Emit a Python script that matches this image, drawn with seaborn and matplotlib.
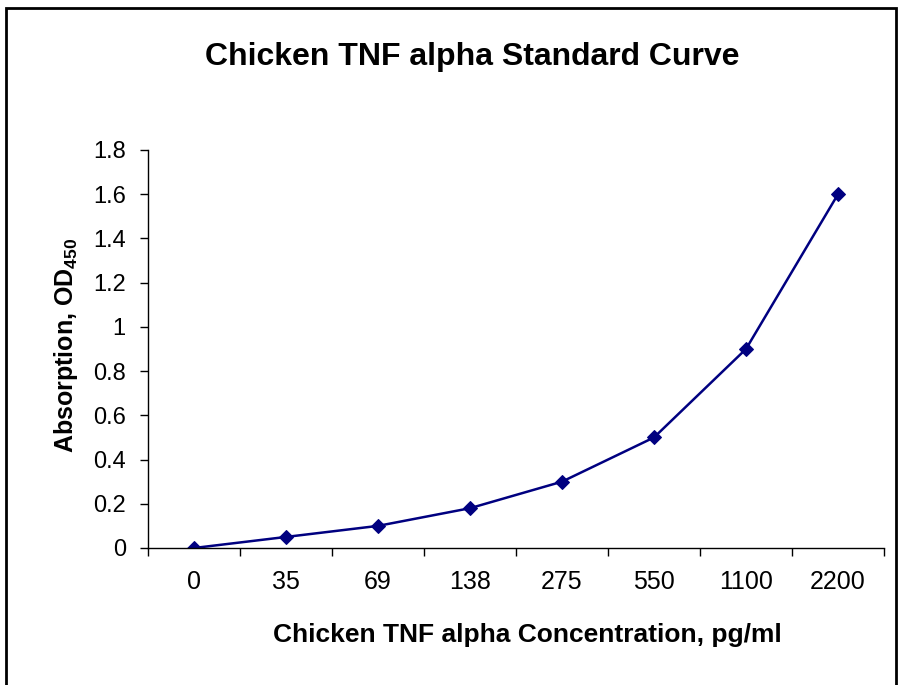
import matplotlib
matplotlib.use("Agg")
import matplotlib.pyplot as plt
import seaborn as sns
import pandas as pd
from matplotlib.patches import Rectangle
from matplotlib.ticker import FixedLocator

# data
concentrations = ["0", "35", "69", "138", "275", "550", "1100", "2200"]
absorption = [0.0, 0.05, 0.1, 0.18, 0.3, 0.5, 0.9, 1.6]
y_ticks = [0, 0.2, 0.4, 0.6, 0.8, 1.0, 1.2, 1.4, 1.6, 1.8]
y_tick_labels = ["0", "0.2", "0.4", "0.6", "0.8", "1", "1.2", "1.4", "1.6", "1.8"]

df = pd.DataFrame({"conc": concentrations, "od": absorption})

sns.set_theme(style="white")
plt.rcParams["font.family"] = ["Liberation Sans", "DejaVu Sans"]
plt.rcParams["font.sans-serif"] = ["Liberation Sans", "DejaVu Sans"]
plt.rcParams["mathtext.fontset"] = "custom"
plt.rcParams["mathtext.bf"] = "sans:bold"
plt.rcParams["mathtext.rm"] = "sans"
for key in ["text.color", "axes.labelcolor", "xtick.color", "ytick.color"]:
    plt.rcParams[key] = "black"

fig = plt.figure(figsize=(9, 6.85), dpi=100)
ax = fig.add_axes([148 / 900, 137 / 685, 736 / 900, 398 / 685])

sns.lineplot(data=df, x="conc", y="od", sort=False, color="#000080",
             marker="D", markersize=7, markeredgecolor="#000080",
             linewidth=1.8, ax=ax)

ax.set_xlim(-0.5, len(concentrations) - 0.5)
ax.set_ylim(0, 1.8)
ax.set_yticks(y_ticks)
ax.set_yticklabels(y_tick_labels)
ax.set_xticks(range(len(concentrations)))
ax.set_xticklabels(concentrations)
ax.xaxis.set_minor_locator(FixedLocator([i - 0.5 for i in range(len(concentrations) + 1)]))
ax.tick_params(axis="x", which="major", length=0, pad=16, labelsize=18)
ax.tick_params(axis="x", which="minor", length=6, width=1, direction="out", color="black", bottom=True)
ax.tick_params(axis="y", length=6, width=1, direction="out", color="black", left=True, labelsize=17, pad=10)

for s in ["top", "right"]:
    ax.spines[s].set_visible(False)
for s in ["left", "bottom"]:
    ax.spines[s].set_color("black")
    ax.spines[s].set_linewidth(1)

ax.set_xlabel("Chicken TNF alpha Concentration, pg/ml", fontsize=19, fontweight="bold")
ax.set_ylabel(r"Absorption, OD$_\mathbf{450}$", fontsize=18, fontweight="bold")
ax.xaxis.set_label_coords((527 - 148) / 736, -0.188)
ax.yaxis.set_label_coords(-0.093, 0.51)
fig.text(472 / 900, 1 - 57 / 685, "Chicken TNF alpha Standard Curve", ha="center", va="center",
         fontsize=23, fontweight="bold")

fig.patches.append(Rectangle((6 / 900, -0.02), 890 / 900, 1 - 8 / 685 + 0.02, transform=fig.transFigure,
                             fill=False, edgecolor="black", linewidth=2))

fig.savefig("out.png", dpi=100)
